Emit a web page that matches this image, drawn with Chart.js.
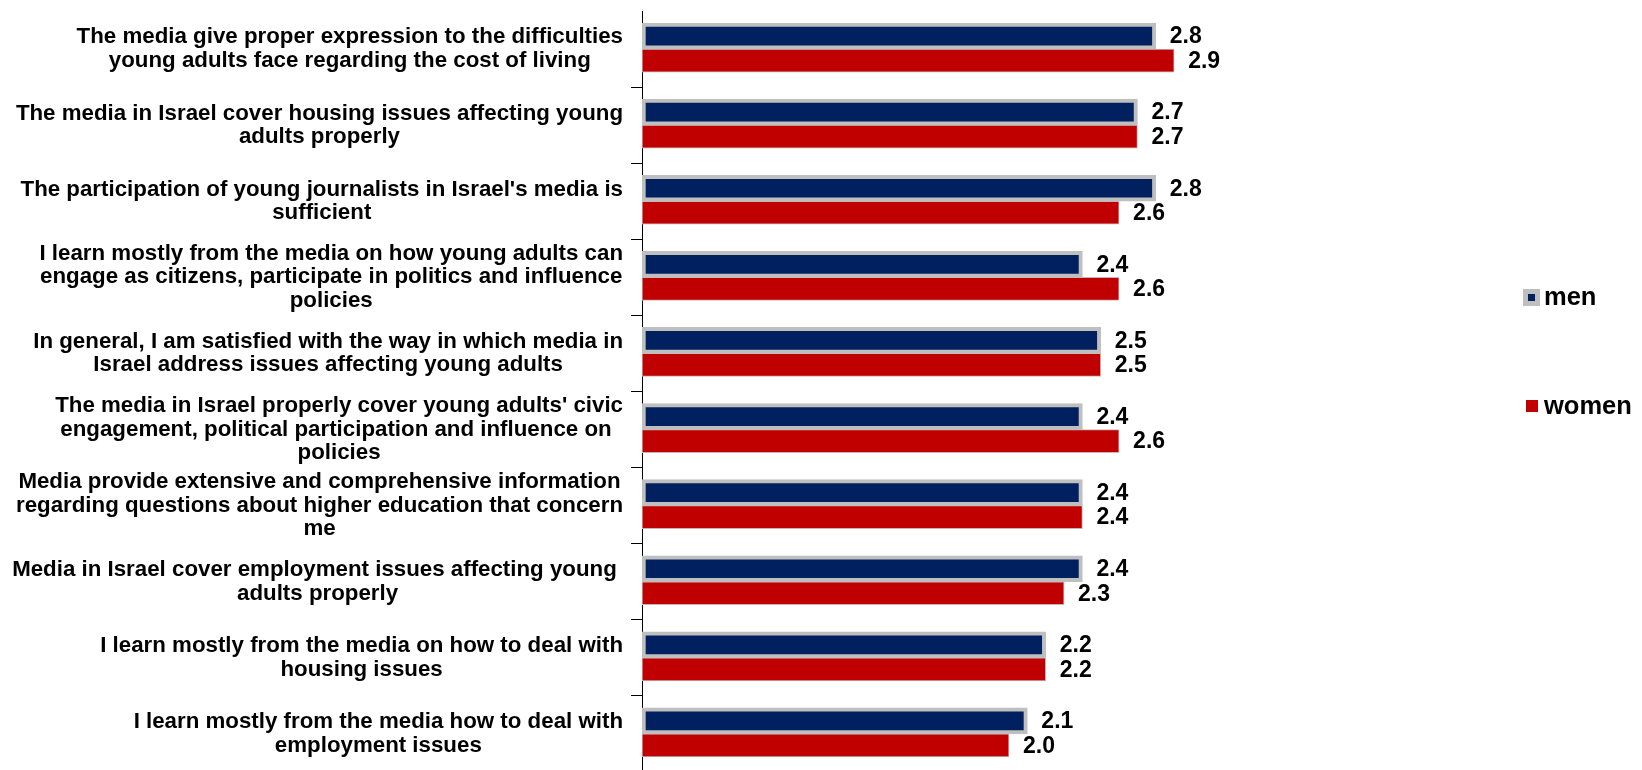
<!DOCTYPE html>
<html>
<head>
<meta charset="utf-8">
<script src="https://cdn.jsdelivr.net/npm/chart.js@4.4.0/dist/chart.umd.min.js"></script>
<style>
  html, body { margin: 0; padding: 0; background: #fff; overflow: hidden; }
  #wrap { width: 1642px; height: 790px; }
</style>
</head>
<body>
<div id="wrap"><canvas id="surveyChart"></canvas></div>
<script>
const categories = [
  ['The media give proper expression to the difficulties', 'young adults face regarding the cost of living'],
  ['The media in Israel cover housing issues affecting young', 'adults properly'],
  ["The participation of young journalists in Israel's media is", 'sufficient'],
  ['I learn mostly from the media on how young adults can', 'engage as citizens, participate in politics and influence', 'policies'],
  ['In general, I am satisfied with the way in which media in', 'Israel address issues affecting young adults'],
  ["The media in Israel properly cover young adults' civic", 'engagement, political participation and influence on ', 'policies'],
  ['Media provide extensive and comprehensive information', 'regarding questions about higher education that concern', 'me'],
  ['Media in Israel cover employment issues affecting young ', 'adults properly'],
  ['I learn mostly from the media on how to deal with', 'housing issues'],
  ['I learn mostly from the media how to deal with', 'employment issues']
];
const menValues = [2.8, 2.7, 2.8, 2.4, 2.5, 2.4, 2.4, 2.4, 2.2, 2.1];
const womenValues = [2.9, 2.7, 2.6, 2.6, 2.5, 2.6, 2.4, 2.3, 2.2, 2.0];
const seriesNames = ['men', 'women'];

const FONT = '"Liberation Sans", Arial, sans-serif';

// draws the category texts, the value labels and the legend
const textPlugin = {
  id: 'textPlugin',
  afterDraw(chart) {
    const ctx = chart.ctx;
    const yScale = chart.scales.y;
    const area = chart.chartArea;
    ctx.save();
    ctx.fillStyle = '#000';
    ctx.textBaseline = 'middle';

    ctx.font = 'bold 22.3px ' + FONT;
    ctx.textAlign = 'center';
    categories.forEach((lines, i) => {
      const cy = yScale.getPixelForValue(i);
      const w = Math.max(...lines.map(l => ctx.measureText(l).width));
      const cx = area.left - 19 - w / 2;
      lines.forEach((line, j) => {
        ctx.fillText(line, cx, cy + (j - (lines.length - 1) / 2) * 23.5);
      });
    });

    ctx.font = 'bold 23px ' + FONT;
    ctx.textAlign = 'left';
    chart.data.datasets.forEach((ds, d) => {
      chart.getDatasetMeta(d).data.forEach((bar, i) => {
        ctx.fillText(ds.data[i].toFixed(1), bar.x + 14, bar.y + 1);
      });
    });

    // legend
    const lx = chart.width - 119;
    ctx.font = 'bold 25.5px ' + FONT;
    ctx.fillStyle = '#bfbfbf';
    ctx.fillRect(lx, 289, 17, 17);
    ctx.fillStyle = '#002060';
    ctx.fillRect(lx + 5, 294, 7, 7);
    ctx.fillStyle = '#000';
    ctx.fillText(seriesNames[0], lx + 21, 298);
    ctx.fillStyle = '#c00000';
    ctx.fillRect(lx + 3, 400, 12, 12);
    ctx.fillStyle = '#000';
    ctx.fillText(seriesNames[1], lx + 21, 407);
    ctx.restore();
  }
};

new Chart(document.getElementById('surveyChart'), {
  type: 'bar',
  data: {
    labels: categories,
    datasets: [
      {
        label: seriesNames[0],
        data: menValues,
        backgroundColor: '#002060',
        borderColor: '#bfbfbf',
        borderWidth: 4,
        borderSkipped: false,
        barThickness: 26
      },
      {
        label: seriesNames[1],
        data: womenValues,
        backgroundColor: '#c00000',
        borderColor: '#c8b4b4',
        borderWidth: 1,
        borderSkipped: false,
        barThickness: 23
      }
    ]
  },
  options: {
    indexAxis: 'y',
    responsive: true,
    maintainAspectRatio: false,
    animation: false,
    devicePixelRatio: 1,
    layout: { padding: { left: 0, right: 266, top: 11, bottom: 18 } },
    plugins: {
      legend: { display: false },
      tooltip: { enabled: false }
    },
    scales: {
      x: { display: false, min: 0, max: 4 },
      y: {
        ticks: { display: false },
        grid: {
          drawOnChartArea: false,
          drawTicks: true,
          tickLength: 11,
          offset: true,
          color: ctx => ctx.index === 0 ? 'rgba(0,0,0,0)' : '#000'
        },
        border: { color: '#000', width: 1 },
        afterFit(scale) { scale.width = 642; }
      }
    }
  },
  plugins: [textPlugin]
});
</script>
</body>
</html>
